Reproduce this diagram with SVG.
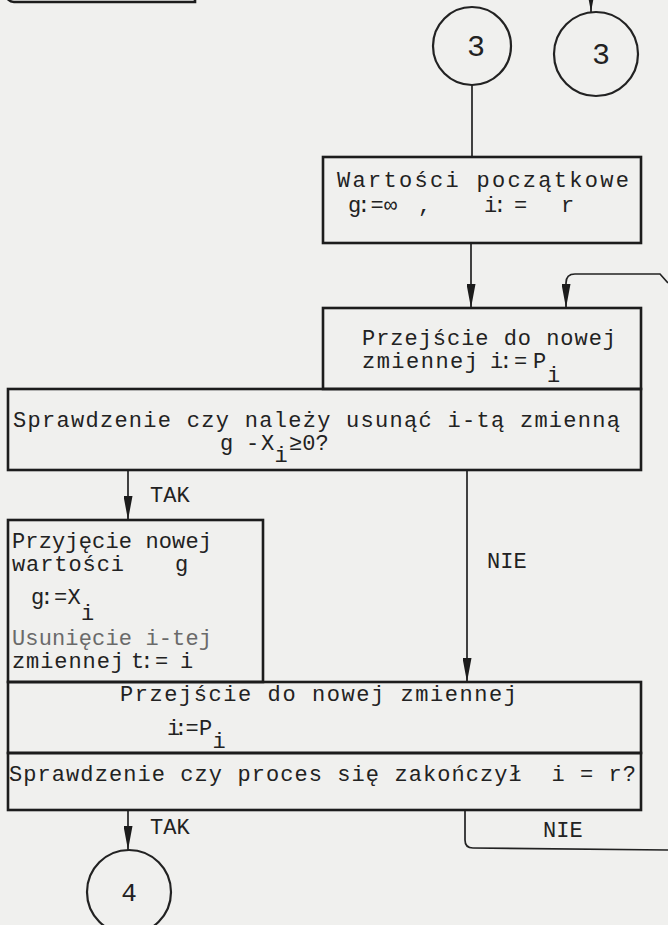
<svg xmlns="http://www.w3.org/2000/svg" width="668" height="925" viewBox="0 0 668 925">
<style>
.bg{fill:#f0f0ee}
.box{fill:none;stroke:#1c1c1c;stroke-width:2.6}
.ln{fill:none;stroke:#222;stroke-width:1.7}
.cir{fill:none;stroke:#222;stroke-width:2.2}
.t{font-family:"Liberation Mono","DejaVu Sans Mono",monospace;font-size:22px;fill:#222}
.k{letter-spacing:-4px}
.kk{letter-spacing:-6px}
.lt{fill:#6a6a6a}
.d{font-family:"Liberation Mono","DejaVu Sans Mono",monospace;fill:#222;text-anchor:middle}
</style>
<defs>
<marker id="ah" viewBox="0 0 24 9" refX="24" refY="4.5" markerWidth="24" markerHeight="9" orient="auto" markerUnits="userSpaceOnUse">
<path d="M0,0 L24,4.5 L0,9 z" fill="#1c1c1c"/>
</marker>
</defs>
<rect class="bg" x="0" y="0" width="668" height="925"/>

<g id="connectors">
<path class="box" d="M7,-6 Q7,2 14,2 L195,2 L195,-6"/>
<path class="ln" d="M591,-10 L591,12" marker-end="url(#ah)"/>
<path class="ln" d="M472,85 L472,157"/>
<path class="ln" d="M471,243 L471,308" marker-end="url(#ah)"/>
<path class="ln" d="M668,283 L660,274 L575,274 Q566,274 566,283 L566,308" marker-end="url(#ah)"/>
<path class="ln" d="M128,470 L128,520" marker-end="url(#ah)"/>
<text class="t" x="150" y="502">TAK</text>
<path class="ln" d="M467,470 L467,682" marker-end="url(#ah)"/>
<text class="t" x="487" y="568">NIE</text>
<path class="ln" d="M128,810 L128,850" marker-end="url(#ah)"/>
<text class="t" x="150" y="834">TAK</text>
<path class="ln" d="M465,810 L465,840 Q465,848 473,848 L668,850"/>
<text class="t" x="543" y="837">NIE</text>
</g>

<g id="c3a">
<circle class="cir" cx="472" cy="46" r="39"/>
<text class="d" x="476" y="56" font-size="30">3</text>
</g>

<g id="c3b">
<circle class="cir" cx="596" cy="54" r="42"/>
<text class="d" x="601" y="64" font-size="30">3</text>
</g>

<g id="init">
<rect class="box" x="323" y="157" width="318" height="86"/>
<text class="t" x="337" y="187" textLength="292" lengthAdjust="spacing">Wartości początkowe</text>
<text class="t k" x="348" y="212">g:</text>
<text class="t" x="370.5" y="212">=</text>
<text class="t" x="384" y="212">∞</text>
<text class="t" x="418" y="212">,</text>
<text class="t k" x="484" y="212">i:</text>
<text class="t" x="514" y="212">=</text>
<text class="t" x="561" y="212">r</text>
</g>

<g id="next1">
<rect class="box" x="323" y="308" width="318" height="81"/>
<text class="t" x="362" y="345" textLength="254" lengthAdjust="spacing">Przejście do nowej</text>
<text class="t" x="362" y="368" textLength="116" lengthAdjust="spacing">zmiennej</text>
<text class="t k" x="490" y="368">i:</text>
<text class="t" x="514" y="368">=</text>
<text class="t" x="533" y="368">P</text>
<text class="t" x="547" y="382">i</text>
</g>

<g id="check1">
<rect class="box" x="8" y="389" width="633" height="81"/>
<text class="t" x="13" y="427" textLength="607" lengthAdjust="spacing">Sprawdzenie czy należy usunąć i-tą zmienną</text>
<text class="t" x="220" y="450">g</text>
<text class="t" x="246" y="450">-</text>
<text class="t" x="261" y="450">X</text>
<text class="t" x="274.5" y="462">i</text>
<text class="t" x="289" y="450">≥0?</text>
</g>

<g id="accept">
<rect class="box" x="8" y="520" width="255" height="162"/>
<text class="t" x="12" y="548" textLength="200" lengthAdjust="spacing">Przyjęcie nowej</text>
<text class="t" x="12" y="571" textLength="112" lengthAdjust="spacing">wartości</text>
<text class="t" x="175" y="571">g</text>
<text class="t k" x="31" y="604">g:</text>
<text class="t" x="54" y="604">=</text>
<text class="t" x="67.5" y="604">X</text>
<text class="t" x="81" y="620">i</text>
<text class="t lt" x="12" y="645" textLength="200" lengthAdjust="spacing">Usunięcie i-tej</text>
<text class="t" x="12" y="668" textLength="112" lengthAdjust="spacing">zmiennej</text>
<text class="t k" x="131" y="668">t:</text>
<text class="t" x="155" y="668">=</text>
<text class="t" x="180" y="668">i</text>
</g>

<g id="next2">
<rect class="box" x="8" y="682" width="633" height="71"/>
<text class="t" x="120" y="701" textLength="397" lengthAdjust="spacing">Przejście do nowej zmiennej</text>
<text class="t kk" x="167" y="735">i:</text>
<text class="t" x="185.5" y="735">=</text>
<text class="t" x="199" y="735">P</text>
<text class="t" x="212.5" y="748">i</text>
</g>

<g id="check2">
<rect class="box" x="8" y="753" width="633" height="57"/>
<text class="t" x="9" y="781" textLength="627" lengthAdjust="spacing" xml:space="preserve">Sprawdzenie czy proces się zakończył  i = r?</text>
</g>

<g id="c4">
<circle class="cir" cx="129" cy="892" r="42"/>
<text class="d" x="129" y="901" font-size="26">4</text>
</g>
</svg>
